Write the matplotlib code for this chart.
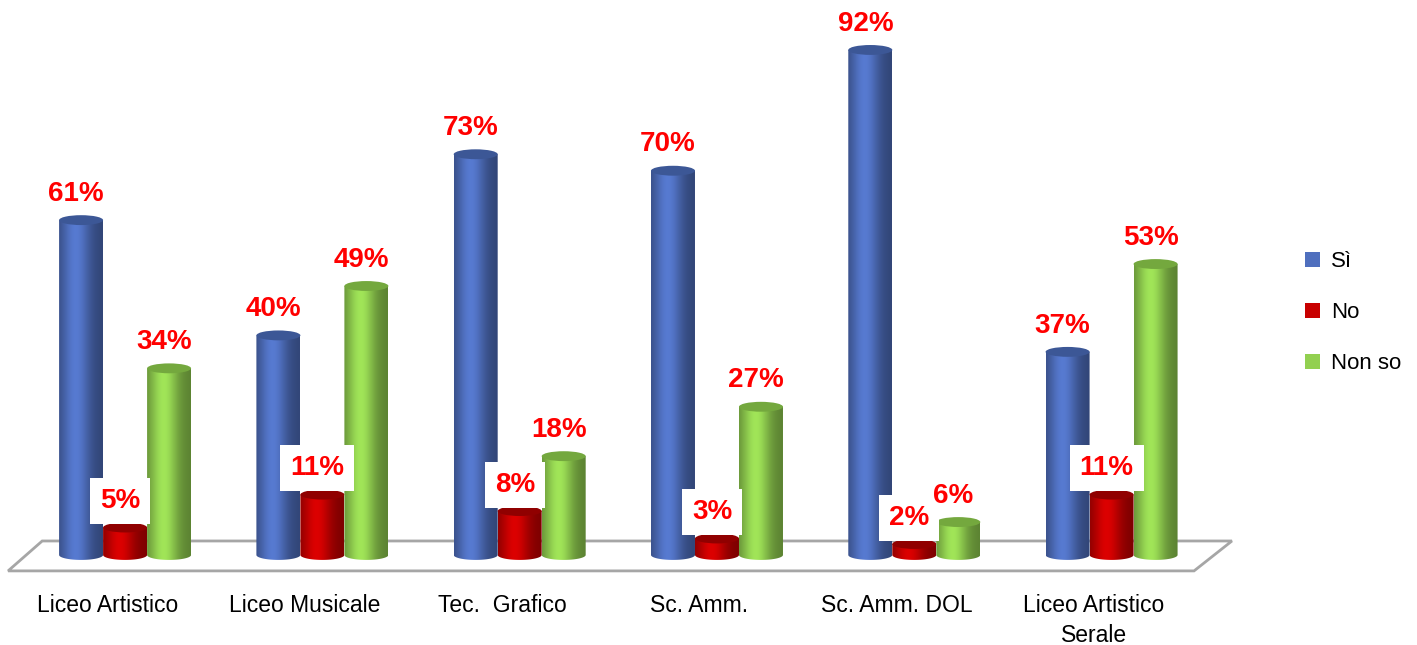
import numpy as np
import matplotlib
matplotlib.use('agg')
import matplotlib.pyplot as plt
from matplotlib.patches import Ellipse, PathPatch, Polygon, Patch
from matplotlib.path import Path
from matplotlib.colors import to_rgb

categories = ["Liceo Artistico", "Liceo Musicale", "Tec.  Grafico", "Sc. Amm.",
              "Sc. Amm. DOL", "Liceo Artistico\nSerale"]
series = ["Sì", "No", "Non so"]
si = [61, 40, 73, 70, 92, 37]
no = [5, 11, 8, 3, 2, 11]
non_so = [34, 49, 18, 27, 6, 53]

colors = ["#4f6fbe", "#c80000", "#92d050"]
tops = ["#3c5796", "#900000", "#74a83e"]

plt.rcParams['font.family'] = ['Liberation Sans', 'DejaVu Sans']

fig = plt.figure(figsize=(14.17, 6.45), dpi=100)
ax = fig.add_axes([0, 0, 1, 1])
ax.set_xlim(-0.634, 6.548)
ax.set_ylim(-16.4, 101.1)
ax.axis('off')

w = 0.223      # bar width (group units)
eh = 1.8       # height of cylinder end ellipses (percent units)
x = np.arange(len(categories))
n = len(categories)

# floor of the 3d box
floor = Polygon([(-0.42, 2.55), (n - 1 + 0.61, 2.55), (n - 1 + 0.418, -2.9), (-0.593, -2.9)],
                closed=True, facecolor='white', edgecolor='#a6a6a6', lw=2, zorder=1)
ax.add_patch(floor)

t = np.linspace(0, 1, 80)
shade = 0.62 + 0.48 * np.exp(-((t - 0.38) / 0.33) ** 2)

for j, vals in enumerate([si, no, non_so]):
    bars = ax.bar(x + (j - 1) * w, vals, w, color=colors[j], linewidth=0, zorder=2 + j)
    base = np.array(to_rgb(colors[j]))
    img = np.clip(base[None, :] * shade[:, None], 0, 1)[None, :, :]
    for rect, v in zip(bars, vals):
        rect.set_visible(False)
        x0 = rect.get_x()
        h = rect.get_height()
        xc = x0 + w / 2
        ang = np.linspace(np.pi, 2 * np.pi, 40)
        verts = [(x0, h), (x0, 0)]
        verts += list(zip(xc + w / 2 * np.cos(ang), eh / 2 * np.sin(ang)))
        verts += [(x0 + w, h), (x0, h)]
        codes = [Path.MOVETO] + [Path.LINETO] * (len(verts) - 2) + [Path.CLOSEPOLY]
        body = PathPatch(Path(verts, codes), facecolor='none', edgecolor='none', zorder=2 + j)
        ax.add_patch(body)
        im = ax.imshow(img, extent=[x0, x0 + w, -eh / 2, h], aspect='auto',
                       interpolation='bilinear', zorder=2 + j)
        im.set_clip_path(body)
        ax.add_patch(Ellipse((xc, h), w, eh, facecolor=tops[j], edgecolor='none',
                             zorder=2 + j + 0.1))
        box = dict(facecolor='white', edgecolor='none', boxstyle='square,pad=0.36') if j == 1 else None
        ax.text(xc - 0.025, h + 4.8, f"{v}%", ha='center', va='center', color='#ff0000',
                fontsize=20, fontweight='bold', bbox=box, zorder=10)

for i, cat in enumerate(categories):
    ax.text(i - 0.09, -7.2, cat, ha='center', va='top', fontsize=16.5, linespacing=1.38)

handles = [Patch(facecolor=c) for c in colors]
fig.legend(handles, series, loc='center left', bbox_to_anchor=(0.907, 0.515), frameon=False,
           fontsize=16, handlelength=0.65, handleheight=0.65, handletextpad=0.5,
           labelspacing=1.35)

fig.savefig("out.png", dpi=100)
